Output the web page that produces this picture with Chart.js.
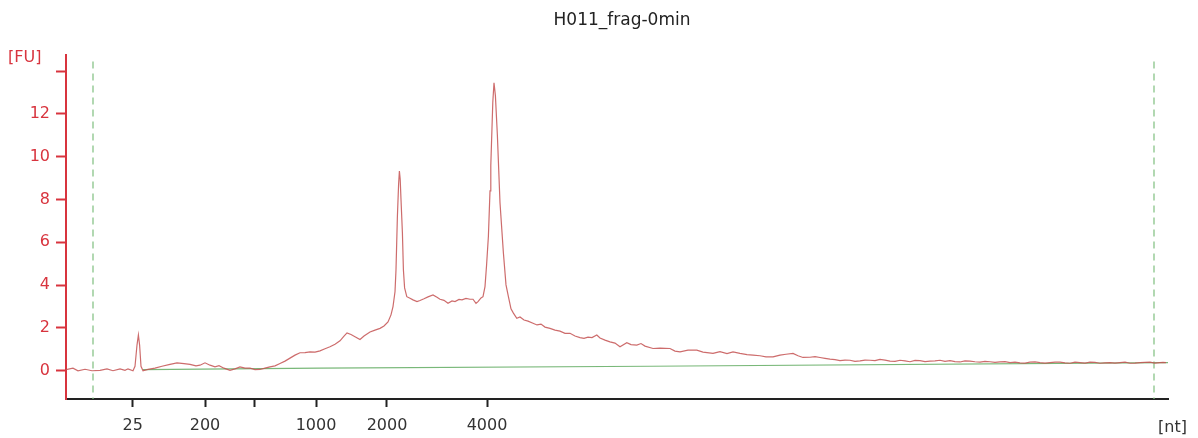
<!DOCTYPE html>
<html>
<head>
<meta charset="utf-8">
<script src="https://cdn.jsdelivr.net/npm/chart.js@4/dist/chart.umd.min.js"></script>
<style>
  html, body { margin: 0; padding: 0; background: #fff; }
  #wrap { width: 1198px; height: 438px; }
</style>
</head>
<body>
<div id="wrap"><canvas id="electropherogram"></canvas></div>
<script>
// sample name
const sampleName = 'H011_frag-0min';

// migration time (s) and fluorescence (FU) of the sample trace
const timeSec = [
  19.0, 19.35, 19.6, 19.95, 20.3, 20.7, 21.05, 21.35, 21.7, 21.95, 22.1, 22.35,
  22.45, 22.55, 22.62, 22.68, 22.75, 22.85, 23.1, 23.45, 23.8, 24.2, 24.55, 24.9,
  25.2, 25.5, 25.7, 25.95, 26.2, 26.45, 26.65, 26.9, 27.2, 27.45, 27.7, 27.95,
  28.2, 28.45, 28.7, 28.95, 29.2, 29.45, 29.7, 29.95, 30.2, 30.45, 30.7, 30.95,
  31.2, 31.45, 31.7, 31.95, 32.2, 32.45, 32.7, 32.9, 33.05, 33.25, 33.45, 33.7,
  33.9, 34.2, 34.45, 34.7, 34.9, 35.1, 35.25, 35.35, 35.45, 35.5, 35.57, 35.63,
  35.67, 35.71, 35.75, 35.82, 35.87, 35.93, 36.04, 36.2, 36.35, 36.55, 36.7, 36.9,
  37.1, 37.35, 37.55, 37.7, 37.9, 38.1, 38.3, 38.45, 38.65, 38.8, 39.0, 39.2,
  39.35, 39.5, 39.6, 39.75, 39.85, 39.95, 40.03, 40.12, 40.2, 40.24, 40.34, 40.4,
  40.47, 40.57, 40.7, 40.87, 41.0, 41.12, 41.25, 41.37, 41.54, 41.7, 41.9, 42.1,
  42.35, 42.55, 42.75, 42.95, 43.2, 43.45, 43.7, 43.95, 44.2, 44.45, 44.7, 44.9,
  45.1, 45.3, 45.54, 45.7, 45.95, 46.2, 46.45, 46.7, 47.04, 47.25, 47.54, 47.75,
  47.95, 48.35, 48.7, 49.2, 49.45, 49.7, 50.1, 50.54, 50.85, 51.35, 51.7, 52.05,
  52.35, 52.7, 53.05, 53.35, 53.7, 54.0, 54.35, 54.7, 55.0, 55.35, 55.6, 55.85,
  56.2, 56.45, 56.7, 56.95, 57.2, 57.45, 57.7, 57.95, 58.2, 58.45, 58.7, 58.95,
  59.2, 59.45, 59.7, 59.95, 60.2, 60.45, 60.7, 60.95, 61.2, 61.45, 61.7, 61.95,
  62.2, 62.45, 62.7, 62.95, 63.2, 63.45, 63.7, 63.95, 64.2, 64.45, 64.7, 64.95,
  65.2, 65.45, 65.7, 65.95, 66.2, 66.45, 66.7, 66.95, 67.2, 67.45, 67.7, 67.95,
  68.2, 68.45, 68.7, 68.95, 69.2, 69.45, 69.7, 69.95, 70.2, 70.45, 70.7, 70.95,
  71.2, 71.45, 71.7, 71.95, 72.2, 72.45, 72.7, 72.95, 73.2, 73.45, 73.7, 73.85, 74.0
];
const fluorescence = [
  0.05, 0.12, 0.0, 0.07, 0.0, 0.02, 0.09, 0.0, 0.09, 0.02, 0.09, 0.0,
  0.21, 1.2, 1.67, 1.2, 0.21, 0.0, 0.06, 0.12, 0.21, 0.3, 0.37, 0.33,
  0.3, 0.23, 0.26, 0.37, 0.26, 0.18, 0.24, 0.12, 0.02, 0.09, 0.18, 0.12,
  0.12, 0.05, 0.06, 0.12, 0.18, 0.23, 0.34, 0.45, 0.59, 0.73, 0.84, 0.85,
  0.88, 0.87, 0.93, 1.03, 1.12, 1.24, 1.4, 1.62, 1.77, 1.69, 1.59, 1.46,
  1.62, 1.81, 1.9, 1.98, 2.09, 2.28, 2.61, 3.0, 3.69, 4.72, 7.22, 8.71,
  9.33, 8.94, 8.0, 6.46, 4.72, 3.87, 3.46, 3.39, 3.31, 3.23, 3.28, 3.36,
  3.45, 3.54, 3.43, 3.34, 3.29, 3.15, 3.26, 3.23, 3.33, 3.31, 3.38, 3.34,
  3.34, 3.15, 3.23, 3.4, 3.46, 3.93, 4.95, 6.28, 8.4, 9.6, 12.54, 13.45,
  12.85, 10.98, 7.85, 5.5, 4.01, 3.46, 2.89, 2.69, 2.45, 2.51, 2.37, 2.32,
  2.22, 2.14, 2.18, 2.04, 1.98, 1.9, 1.85, 1.75, 1.75, 1.62, 1.55, 1.51,
  1.57, 1.55, 1.67, 1.53, 1.43, 1.35, 1.29, 1.12, 1.31, 1.22, 1.2, 1.27,
  1.15, 1.04, 1.06, 1.04, 0.92, 0.88, 0.96, 0.96, 0.87, 0.81, 0.89, 0.8,
  0.88, 0.81, 0.75, 0.73, 0.7, 0.65, 0.65, 0.73, 0.77, 0.81, 0.7, 0.62,
  0.63, 0.66, 0.62, 0.58, 0.54, 0.52, 0.47, 0.5, 0.49, 0.44, 0.46, 0.5,
  0.49, 0.47, 0.53, 0.5, 0.45, 0.44, 0.49, 0.46, 0.42, 0.48, 0.47, 0.43,
  0.45, 0.46, 0.49, 0.44, 0.47, 0.43, 0.41, 0.46, 0.45, 0.42, 0.4, 0.44,
  0.42, 0.39, 0.41, 0.43, 0.38, 0.4, 0.37, 0.36, 0.4, 0.41, 0.38, 0.36,
  0.38, 0.4, 0.4, 0.37, 0.35, 0.4, 0.38, 0.36, 0.4, 0.39, 0.35, 0.37,
  0.38, 0.36, 0.38, 0.4, 0.35, 0.36, 0.38, 0.39, 0.4, 0.36, 0.38, 0.39, 0.38
];

// baseline (green)
const baselineTime = [22.85, 31.7, 48.2, 74.1];
const baselineFU = [0.05, 0.12, 0.21, 0.38];

// start / end markers (dashed)
const markerTime = [20.35, 73.4];

// size ladder ticks on the time axis
const ladderTickTime = [22.34, 25.95, 28.4, 31.5, 35.05, 40.05];
const ladderTickLabels = ['25', '200', '', '1000', '2000', '4000'];

// FU ticks
const fuTicks = [0, 2, 4, 6, 8, 10, 12, 14];
const fuLabels = ['0', '2', '4', '6', '8', '10', '12', ''];

const xMin = 19.0, xMax = 74.1;
const yMin = -1.32, yMax = 14.75;

const RED = '#d8343e';
const FONT = 'DejaVu Sans';

const textPlugin = {
  id: 'bioText',
  afterDraw(chart) {
    const c = chart.ctx;
    const area = chart.chartArea;
    c.save();
    c.font = '17px "' + FONT + '"';
    c.fillStyle = '#222';
    c.textAlign = 'center';
    c.textBaseline = 'middle';
    c.fillText(sampleName, 622, 21);
    c.font = '16px "' + FONT + '"';
    c.fillStyle = RED;
    c.textAlign = 'left';
    c.fillText('[FU]', 8, 58);
    c.fillStyle = '#333';
    c.fillText('[nt]', area.right - 10, 428);
    c.restore();
  }
};

const ctx = document.getElementById('electropherogram').getContext('2d');
new Chart(ctx, {
  type: 'line',
  data: {
    datasets: [
      {
        label: 'sample',
        data: timeSec.map((t, i) => ({ x: t, y: fluorescence[i] })),
        borderColor: 'rgba(196, 82, 82, 0.85)',
        borderWidth: 1.2,
        pointRadius: 0,
        tension: 0,
        order: 1
      },
      {
        label: 'baseline',
        data: baselineTime.map((t, i) => ({ x: t, y: baselineFU[i] })),
        borderColor: '#79b879',
        borderWidth: 1.2,
        pointRadius: 0,
        order: 2
      },
      ...markerTime.map(t => ({
        label: 'marker',
        data: [{ x: t, y: yMax - 0.3 }, { x: t, y: yMin }],
        borderColor: '#7fbf7f',
        borderWidth: 1.2,
        borderDash: [7, 5],
        pointRadius: 0,
        order: 3
      }))
    ]
  },
  options: {
    responsive: true,
    maintainAspectRatio: false,
    animation: false,
    layout: { padding: { top: 55, right: 30, left: 0, bottom: 0 } },
    plugins: {
      legend: { display: false },
      title: { display: false },
      tooltip: { enabled: false }
    },
    scales: {
      x: {
        type: 'linear',
        min: xMin,
        max: xMax,
        afterBuildTicks: s => { s.ticks = ladderTickTime.map(v => ({ value: v })); },
        afterFit: s => { s.height = 39; },
        grid: { drawOnChartArea: false, drawTicks: true, tickLength: 8, tickColor: '#222', tickWidth: 2 },
        border: { display: true, color: '#222', width: 2 },
        ticks: {
          autoSkip: false,
          maxRotation: 0,
          padding: 9,
          color: '#333',
          font: { family: FONT, size: 16 },
          callback: (v, i) => ladderTickLabels[i]
        }
      },
      y: {
        type: 'linear',
        min: yMin,
        max: yMax,
        afterBuildTicks: s => { s.ticks = fuTicks.map(v => ({ value: v })); },
        afterFit: s => { s.width = 66; },
        grid: { drawOnChartArea: false, drawTicks: true, tickLength: 10, tickColor: RED, tickWidth: 2 },
        border: { display: true, color: RED, width: 2 },
        ticks: {
          padding: 6,
          color: RED,
          font: { family: FONT, size: 16 },
          callback: (v, i) => fuLabels[i]
        }
      }
    }
  },
  plugins: [textPlugin]
});
</script>
</body>
</html>
